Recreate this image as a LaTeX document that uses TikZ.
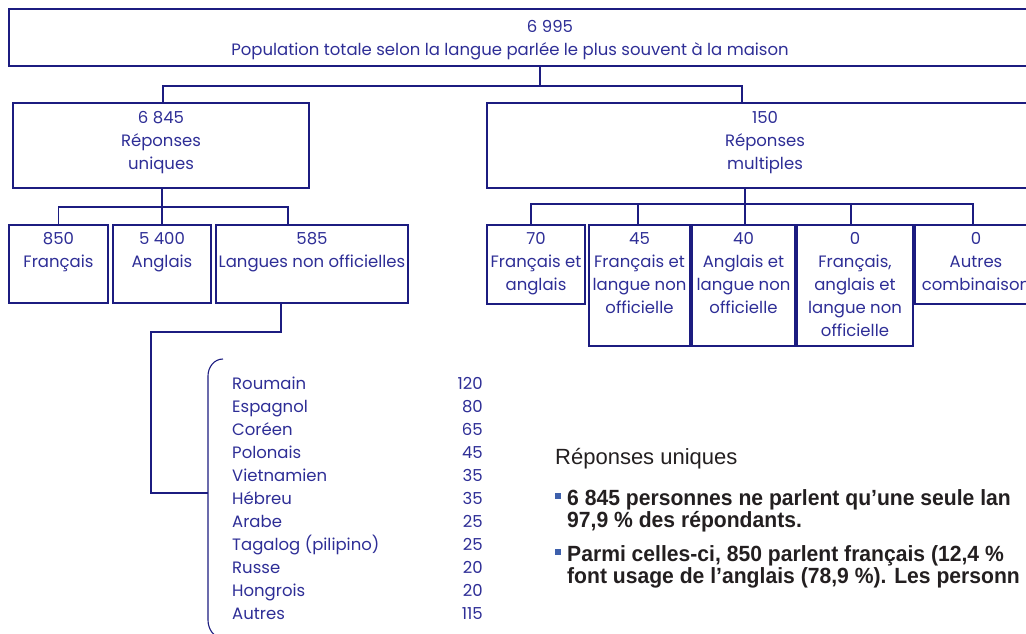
\documentclass[tikz,border=0pt]{standalone}
\usepackage{fontspec}
\setmainfont{Poppins}
\newfontfamily\notefont{Liberation Sans}
\newfontfamily\boldnotefont[FakeStretch=0.96]{Liberation Sans Bold}
\usetikzlibrary{positioning,fit}
\definecolor{lineblue}{RGB}{28,28,128}
\definecolor{textblue}{RGB}{46,46,150}
\definecolor{bulletblue}{RGB}{62,96,172}
\definecolor{notegray}{RGB}{35,31,32}
\newcommand{\rows}[1]{\begin{tabular}[t]{@{}c@{}}#1\end{tabular}}

\begin{document}
\begin{tikzpicture}[x=1pt,y=-1pt,
  box/.style={draw=lineblue,line width=1.1pt,inner sep=0pt},
  lbl/.style={text=textblue,font=\fontsize{16.5}{23}\selectfont,anchor=base,inner sep=0pt},
  lang/.style={text=textblue,font=\fontsize{16.5}{23}\selectfont,inner sep=0pt},
  link/.style={draw=lineblue,line width=1.1pt},
  note/.style={text=notegray,font=\notefont\fontsize{22}{22}\selectfont,anchor=base west,inner sep=0pt},
  bnote/.style={note,font=\boldnotefont\fontsize{22}{22}\selectfont}]
\useasboundingbox (0,0) rectangle (1026,634);
\clip (0,0) rectangle (1026,634);

% boxes
\node[box,fit={(9,9) (1100,66)}] (top) {};
\node[box,fit={(13,103) (309,188)}] (uni) {};
\node[box,fit={(487,103) (1043,188)}] (mul) {};
\node[box,fit={(9,225) (108,303)}] (fr) {};
\node[box,fit={(113,225) (211,303)}] (an) {};
\node[box,fit={(216,225) (408,303)}] (lno) {};
\node[box,fit={(487,225) (585,304)}] (fa) {};
\node[box,fit={(589,225) (690,346)}] (fl) {};
\node[box,fit={(692,225) (795,346)}] (al) {};
\node[box,fit={(797,225) (913,346)}] (fal) {};
\node[box,fit={(915,225) (1037,304)}] (aut) {};

% labels
\node[lbl] (topN) at (550,33) {6 995};
\node[lbl] (topT) at (510,56) {Population totale selon la langue parlée le plus souvent à la maison};
\node[lbl] (uniT) at (161,124) {\rows{6 845\\Réponses\\uniques}};
\node[lbl] (mulT) at (765,124) {\rows{150\\Réponses\\multiples}};
\node[lbl] (frT) at (fr.north |- 0,244) {\rows{850\\Français}};
\node[lbl] (anT) at (an.north |- 0,244) {\rows{5 400\\Anglais}};
\node[lbl] (lnoT) at (lno.north |- 0,244) {\rows{585\\Langues non officielles}};
\node[lbl] (faT) at (fa.north |- 0,244) {\rows{70\\Français et\\anglais}};
\node[lbl] (flT) at (fl.north |- 0,244) {\rows{45\\Français et\\langue non\\officielle}};
\node[lbl] (alT) at (al.north |- 0,244) {\rows{40\\Anglais et\\langue non\\officielle}};
\node[lbl] (falT) at (fal.north |- 0,244) {\rows{0\\Français,\\anglais et\\langue non\\officielle}};
\node[lbl] (autT) at (aut.north |- 0,244) {\rows{0\\Autres\\combinaison}};

% connectors
\coordinate (j0) at (540,86);
\coordinate (t1) at (163,86);
\coordinate (t2) at (742,86);
\draw[link] (j0 |- top.south) -- (j0);
\draw[link] (t1 |- uni.north) -- (t1) -- (t2) -- (t2 |- mul.north);

\coordinate (u0) at (162,207);
\coordinate (u1) at (288,207);
\draw[link] (u0 |- uni.south) -- (u0);
\draw[link] (fr.north) |- (u1) -- (u1 |- lno.north);
\draw[link] (an.north) -- (an.north |- u0);

\coordinate (m0) at (745,204);
\coordinate (m1) at (531,204);
\coordinate (m2) at (638,204);
\coordinate (m4) at (851,204);
\coordinate (m5) at (973,204);
\draw[link] (m0 |- mul.south) -- (m0 |- al.north);
\draw[link] (m1 |- fa.north) -- (m1) -- (m5) -- (m5 |- aut.north);
\draw[link] (m2) -- (m2 |- fl.north);
\draw[link] (m4) -- (m4 |- fal.north);

\coordinate (l0) at (281,332);
\coordinate (l1) at (151,332);
\coordinate (l2) at (151,493);
\coordinate (br) at (208,493);
\draw[link] (l0 |- lno.south) -- (l0) -- (l1) -- (l2) -- (br);

% bracket and list
\draw[link] (223,359) to[out=180,in=90] (208,376) -- (br) -- (208,620) to[out=-90,in=180] (223,638);
\foreach \nm/\val [count=\i] in {Roumain/120,Espagnol/80,Coréen/65,Polonais/45,Vietnamien/35,Hébreu/35,Arabe/25,Tagalog (pilipino)/25,Russe/20,Hongrois/20,Autres/115}{
  \node[lang,anchor=base west] (lang\i) at (232,{389+23*(\i-1)}) {\nm};
  \node[lang,anchor=base east] (num\i) at (483,{389+23*(\i-1)}) {\val};
}

% notes
\node[note] (head) at (555,464) {Réponses uniques};
\fill[bulletblue] (555,493) rectangle (561,499);
\node[bnote] (b1a) at (567,505) {6 845 personnes ne parlent qu’une seule lan};
\node[bnote] (b1b) at (567,527) {97,9 \% des répondants.};
\fill[bulletblue] (555,549) rectangle (561,555);
\node[bnote] (b2a) at (567,561) {Parmi celles-ci, 850 parlent français (12,4 \%};
\node[bnote] (b2b) at (567,583) {font usage de l’anglais (78,9 \%). Les personn};
\end{tikzpicture}
\end{document}
